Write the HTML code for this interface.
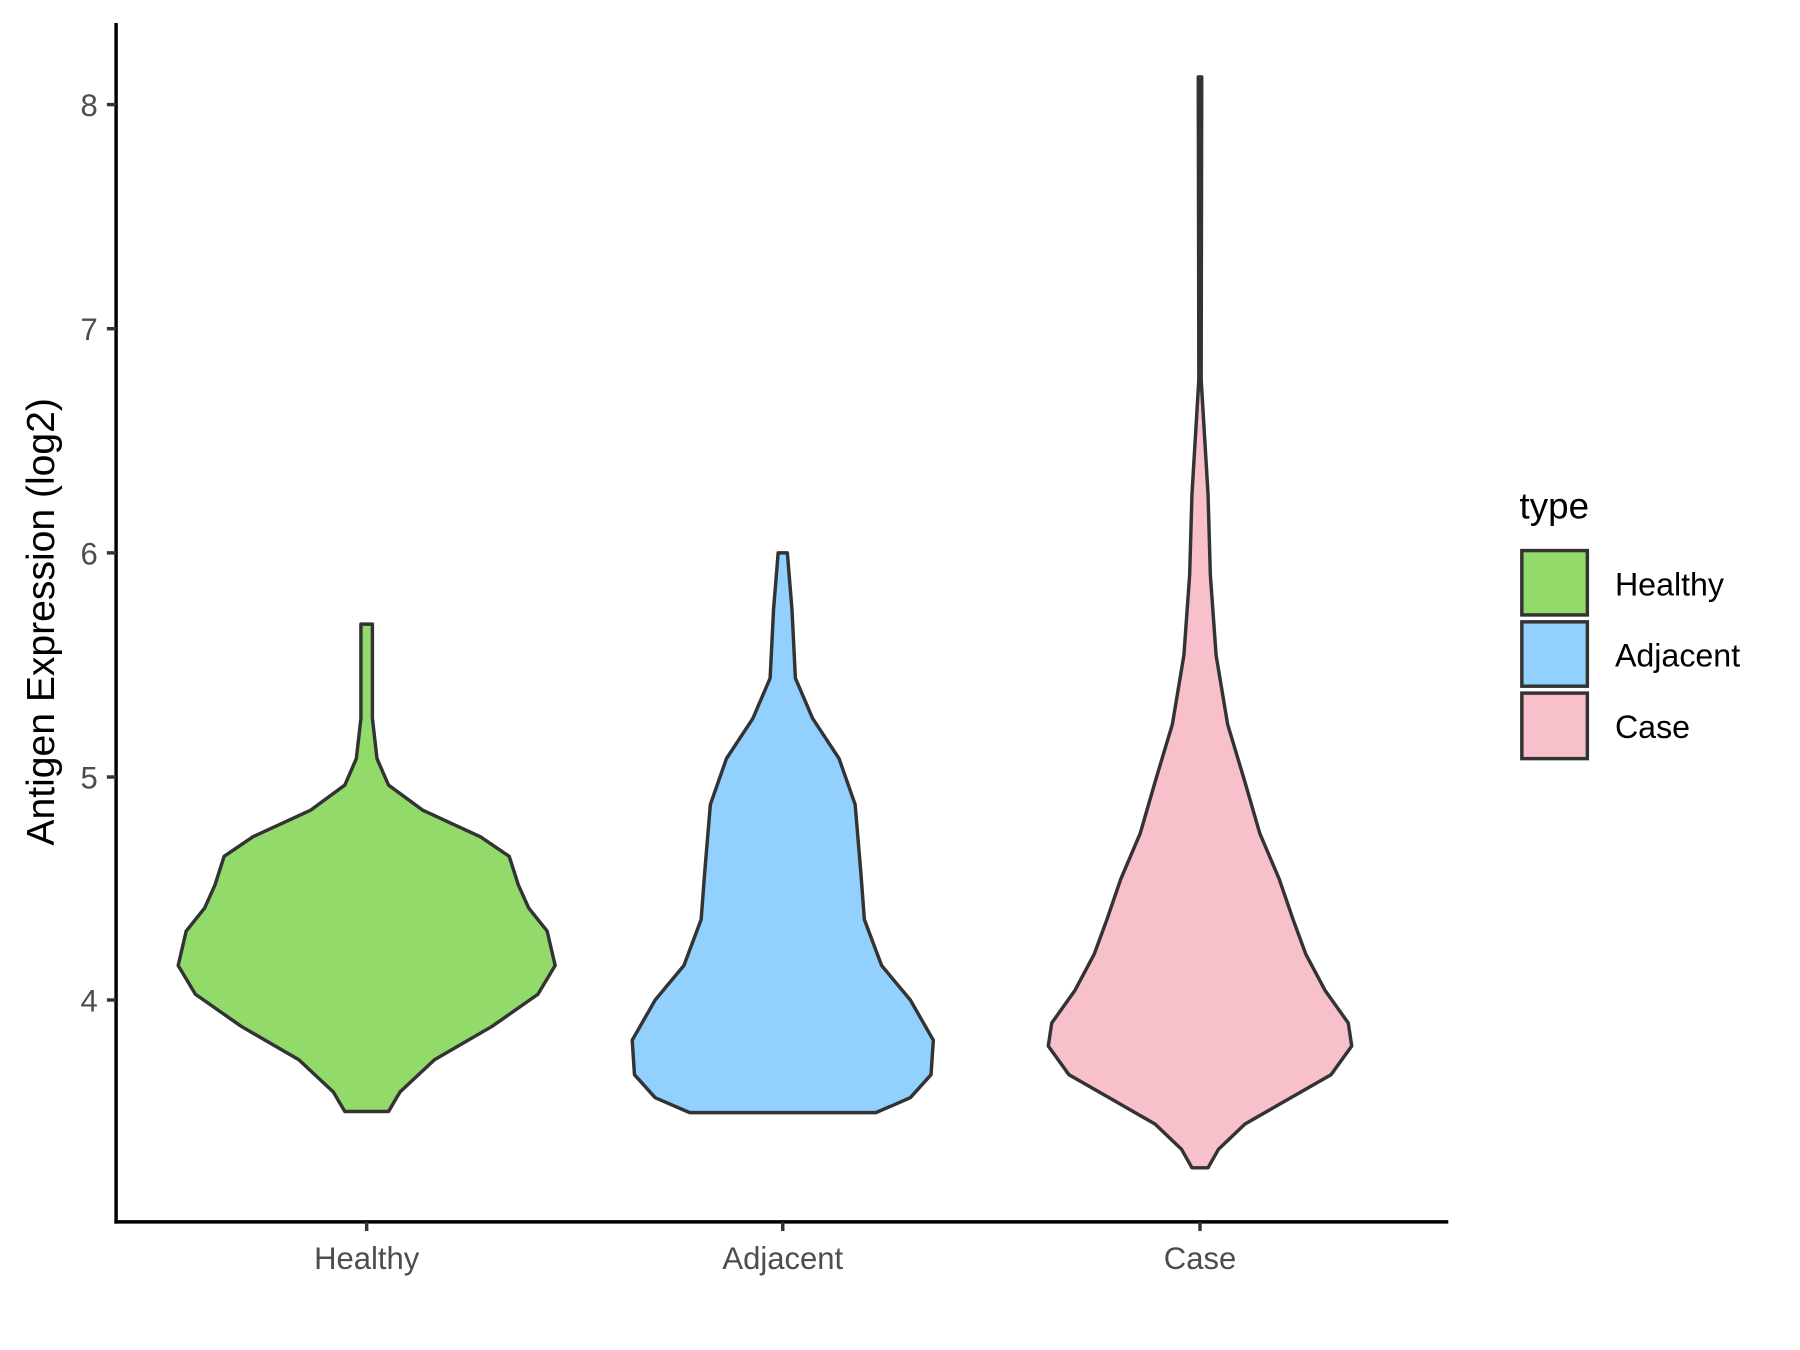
<!DOCTYPE html>
<html><head><style>html,body{margin:0;padding:0;background:#fff}svg{display:block}</style></head>
<body>
<svg width="1800" height="1350" viewBox="0 0 1566 1174.5" xmlns="http://www.w3.org/2000/svg" font-family="Liberation Sans, Arial, sans-serif">
<rect width="1566" height="1175" fill="#fff"/>
<g stroke="#333" stroke-width="3" stroke-linejoin="round" stroke-linecap="round">
<polygon fill="#92DA6A" points="314,543 314,625 310,660 300,683 270,705 220,728 195,745 187,770 178,790 162,810 155,840 170,865 210,893 260,922 290,950 300,967 338,967 348,950 378,922 428,893 468,865 483,840 476,810 460,790 451,770 443,745 418,728 368,705 338,683 328,660 324,625 324,543"/>
<polygon fill="#92D1FE" points="677,481 673,530 670,590 655,625 632,660 618,700 613,760 610,800 595,840 570,870 550,905 552,935 570,955 600,968 762,968 792,955 810,935 812,905 792,870 767,840 752,800 749,760 744,700 730,660 707,625 692,590 689,530 685,481"/>
<polygon fill="#F7C0CB" points="1042.5,67 1043,330 1040,380 1037,430 1035,500 1030,570 1020,630 1005,680 992,725 975,765 963,800 952,830 935,862 915,890 912,910 930,935 965,955 1005,978 1028,1000 1037,1016 1051,1016 1060,1000 1083,978 1123,955 1158,935 1176,910 1173,890 1153,862 1136,830 1125,800 1113,765 1096,725 1083,680 1068,630 1058,570 1053,500 1051,430 1048,380 1045,330 1045.5,67"/>
</g>
<g stroke="#000" stroke-width="3" fill="none">
<line x1="101" y1="20" x2="101" y2="1064.5"/>
<line x1="99.5" y1="1063" x2="1260" y2="1063"/>
</g>
<g stroke="#333" stroke-width="3">
<line x1="93" y1="91" x2="101" y2="91"/><line x1="93" y1="286" x2="101" y2="286"/>
<line x1="93" y1="481" x2="101" y2="481"/><line x1="93" y1="676" x2="101" y2="676"/>
<line x1="93" y1="870" x2="101" y2="870"/>
<line x1="319" y1="1063" x2="319" y2="1071"/><line x1="681" y1="1063" x2="681" y2="1071"/><line x1="1044" y1="1063" x2="1044" y2="1071"/>
</g>
<g fill="#4d4d4d" font-size="27" text-anchor="end">
<text x="85" y="101">8</text><text x="85" y="296">7</text><text x="85" y="491">6</text><text x="85" y="686">5</text><text x="85" y="880">4</text>
</g>
<g fill="#4d4d4d" font-size="27" text-anchor="middle">
<text x="319" y="1104">Healthy</text><text x="681" y="1104">Adjacent</text><text x="1044" y="1104">Case</text>
</g>
<text transform="translate(47,541) rotate(-90)" text-anchor="middle" font-size="34" fill="#000">Antigen Expression (log2)</text>
<text x="1322" y="451" font-size="32" fill="#000">type</text>
<g stroke="#333" stroke-width="3">
<rect x="1324" y="479" width="57" height="56" fill="#92DA6A"/>
<rect x="1324" y="541" width="57" height="56" fill="#92D1FE"/>
<rect x="1324" y="603" width="57" height="57" fill="#F7C0CB"/>
</g>
<g font-size="28" fill="#000">
<text x="1405" y="518">Healthy</text><text x="1405" y="580">Adjacent</text><text x="1405" y="642">Case</text>
</g>
</svg>
</body></html>
